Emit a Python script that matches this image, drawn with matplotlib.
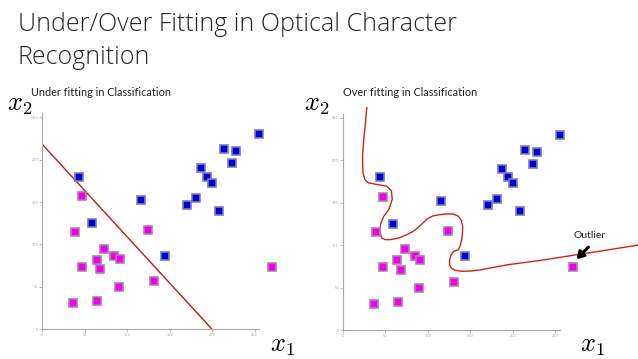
import matplotlib
matplotlib.use("Agg")
import matplotlib.pyplot as plt

plt.rcParams["mathtext.fontset"] = "cm"

# ---- data ----
blue_x = [43, 59, 116, 144, 171, 181, 187, 194, 200, 208, 214, 224, 228, 255]
blue_y = [180, 125, 152, 87, 147, 155, 190, 180, 173, 140, 212, 196, 210, 230]
mag_x = [47, 39, 124, 73, 85, 91, 64, 47, 68, 131, 90, 36, 65, 271]
mag_y = [157, 115, 117, 95, 87, 83, 82, 74, 71, 57, 50, 31, 33, 74]

under_x = [0, 200]
under_y = [218, 0]

over_x = [28, 26.5, 24.5, 23, 23.5, 26, 30, 40, 51.5, 57, 58, 54, 48, 44.5, 43.5,
          45.5, 50, 56, 66, 75, 83, 92, 99, 106, 114, 122, 130, 136, 139.5, 141,
          140.7, 139.8, 138, 135.8, 130, 127, 125.5, 125.5, 128, 132, 140, 150,
          162, 193, 232, 275, 300, 350]
over_y = [262, 245, 225, 205, 185, 177, 173.5, 171.5, 169.5, 164, 154, 142, 134,
          126, 116, 108.5, 106.5, 106.5, 108.5, 112.3, 116.5, 124, 131, 134.5, 136,
          136.8, 136.8, 134, 129, 122, 114, 106.4, 99, 94.6, 92.6, 88, 82, 76.8,
          72.5, 70.5, 69.2, 69.5, 70.9, 76.8, 82, 88.7, 92.5, 100.5]

ticks = [0, 50, 100, 150, 200, 250]
title_lines = ["Under/Over Fitting in Optical Character", "Recognition"]
sub_left = "Under fitting in Classification"
sub_right = "Over fitting in Classification"

fig = plt.figure(figsize=(6.38, 3.59), dpi=100)
fig.patch.set_facecolor("white")

for i, line in enumerate(title_lines):
    fig.text(18/638, 1 - (31 + 33*i)/359, line,
             fontsize=18, family="Open Sans", weight="light", color="#262626",
             va="baseline")

axes_pos = [[42.3/638, 29.7/359, 216.5/638, 216.3/359],
            [343/638, 29/359, 216.5/638, 216.3/359]]

axs = [fig.add_axes(p) for p in axes_pos]
for ax in axs:
    ax.set_xlim(0, 255)
    ax.set_ylim(0, 255)
    for s in ["top", "right"]:
        ax.spines[s].set_visible(False)
    for s in ["left", "bottom"]:
        ax.spines[s].set_color("#a8a8a8")
        ax.spines[s].set_linewidth(0.8)
    ax.set_xticks(ticks)
    ax.set_yticks(ticks)
    ax.tick_params(labelsize=2.5, colors="#a0a0a0", length=2, width=0.5, pad=1)
    ax.plot(blue_x, blue_y, "s", ms=6.2, mfc="#0000cc", mec="#7b7bc4", mew=1.2,
            clip_on=False, zorder=3)
    ax.plot(mag_x, mag_y, "s", ms=6.2, mfc="#ee00ee", mec="#b07ab0", mew=1.2,
            clip_on=False, zorder=3)

axs[0].plot(under_x, under_y, color="#c01818", lw=1.0, zorder=2)
axs[1].plot(over_x, over_y, color="#d02020", lw=1.0, zorder=2, clip_on=False)

axs[1].annotate("", xy=(275, 83.6), xytext=(289, 97.7),
                arrowprops=dict(arrowstyle="-|>,head_width=0.25,head_length=0.4",
                                color="black", lw=2.2, shrinkA=0, shrinkB=0),
                annotation_clip=False)
fig.text(590/638, 1 - 236/359, "Outlier", fontsize=7.5, family="Lato",
         ha="center", va="center", color="#202020")

fig.text(101/638, 1 - 93/359, sub_left, fontsize=7.8, family="Lato",
         ha="center", va="center", color="#202020")
fig.text(410/638, 1 - 92/359, sub_right, fontsize=7.8, family="Lato",
         ha="center", va="center", color="#202020")

fig.text(20/638, 1 - 104/359, "$x_2$", fontsize=19, ha="center", va="center")
fig.text(282/638, 1 - 345/359, "$x_1$", fontsize=19, ha="center", va="center")
fig.text(317/638, 1 - 104/359, "$x_2$", fontsize=19, ha="center", va="center")
fig.text(592/638, 1 - 345/359, "$x_1$", fontsize=19, ha="center", va="center")

fig.savefig("out.png", dpi=100)
